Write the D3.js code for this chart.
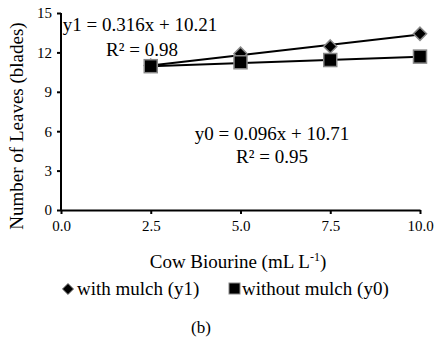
<!DOCTYPE html>
<html>
<head>
<meta charset="utf-8">
<script src="https://cdn.jsdelivr.net/npm/d3@7"></script>
<style>
  html, body { margin: 0; padding: 0; background: #fff; }
  svg text { font-family: "Liberation Serif", "Times New Roman", serif; fill: #000; }
</style>
</head>
<body>
<svg id="chart" width="436" height="342"></svg>
<script>
// Cow biourine dose (mL L-1)
const doses = [2.5, 5.0, 7.5, 10.0];
// Number of leaves, with mulch (y1) and without mulch (y0)
const withMulch = [11.0, 11.9, 12.45, 13.42];
const withoutMulch = [10.95, 11.25, 11.42, 11.68];
// Fitted linear trends
const fitWith = { slope: 0.316, intercept: 10.21, r2: 0.98 };
const fitWithout = { slope: 0.096, intercept: 10.71, r2: 0.95 };
const xTicks = [0, 2.5, 5, 7.5, 10];
const yTicks = [0, 3, 6, 9, 12, 15];

const FONT = "Liberation Serif";
const svg = d3.select("#chart");
const x = d3.scaleLinear().domain([0, 10]).range([61, 420]);
const y = d3.scaleLinear().domain([0, 15]).range([210, 13]);

// Axes
const xAxis = d3.axisBottom(x).tickValues(xTicks).tickFormat(d3.format(".1f"))
  .tickSizeInner(4).tickSizeOuter(0).tickPadding(6);
const yAxis = d3.axisLeft(y).tickValues(yTicks).tickFormat(d3.format("d"))
  .tickSizeInner(4).tickSizeOuter(0).tickPadding(5);

const gx = svg.append("g").attr("transform", `translate(0,${y(0)})`).call(xAxis);
const gy = svg.append("g").attr("transform", `translate(${x(0)},0)`).call(yAxis);
[gx, gy].forEach(g => {
  g.attr("font-family", FONT);
  g.select(".domain").attr("stroke", "#000").attr("stroke-width", 2);
  g.selectAll(".tick line").attr("stroke", "#000").attr("stroke-width", 2);
  g.selectAll(".tick text").attr("font-size", 15)
    .attr("font-family", FONT).attr("fill", "#000");
});
gy.select(".domain").attr("d", `M0,${y(15)}V${y(0)}`);

// Trend lines across the dose range
const xMin = d3.min(doses), xMax = d3.max(doses);
[fitWith, fitWithout].forEach(f => {
  svg.append("line")
    .attr("x1", x(xMin)).attr("y1", y(f.slope * xMin + f.intercept))
    .attr("x2", x(xMax)).attr("y2", y(f.slope * xMax + f.intercept))
    .attr("stroke", "#000").attr("stroke-width", 2);
});

// Markers
svg.append("g").selectAll("path")
  .data(doses.map((d, i) => [d, withMulch[i]]))
  .join("path")
  .attr("d", d3.symbol(d3.symbolDiamond2, 110))
  .attr("transform", d => `translate(${x(d[0])},${y(d[1])})`)
  .attr("fill", "#000").attr("stroke", "#888").attr("stroke-width", 1.5);

svg.append("g").selectAll("rect")
  .data(doses.map((d, i) => [d, withoutMulch[i]]))
  .join("rect")
  .attr("x", d => x(d[0]) - 6.5).attr("y", d => y(d[1]) - 6.5)
  .attr("width", 13).attr("height", 13)
  .attr("fill", "#000").attr("stroke", "#888").attr("stroke-width", 1.5);

function label(px, py, str, size, anchor) {
  return svg.append("text").attr("x", px).attr("y", py)
    .attr("text-anchor", anchor || "middle").attr("font-size", size)
    .attr("font-family", FONT).text(str);
}

// Equation labels
label(140, 31, `y1 = ${fitWith.slope}x + ${fitWith.intercept}`, 19);
label(142, 56, `R² = ${fitWith.r2.toFixed(2)}`, 19);
label(272, 140, `y0 = ${fitWithout.slope}x + ${fitWithout.intercept}`, 19);
label(272, 163, `R² = ${fitWithout.r2.toFixed(2)}`, 19);

// Axis titles
const xt = label(238, 268, "", 19);
xt.append("tspan").text("Cow Biourine (mL L");
xt.append("tspan").attr("font-size", 12).attr("dy", -7).text("-1");
xt.append("tspan").attr("dy", 7).text(")");

svg.append("text")
  .attr("transform", "translate(23,126) rotate(-90)")
  .attr("text-anchor", "middle").attr("font-size", 19).attr("font-family", FONT)
  .text("Number of Leaves (blades)");

// Legend
svg.append("path").attr("d", d3.symbol(d3.symbolDiamond2, 80))
  .attr("transform", "translate(68,289)")
  .attr("fill", "#000").attr("stroke", "#888").attr("stroke-width", 1);
label(77, 295, "with mulch (y1)", 19, "start");
svg.append("rect").attr("x", 229).attr("y", 283).attr("width", 11).attr("height", 11)
  .attr("fill", "#000").attr("stroke", "#888").attr("stroke-width", 1);
label(242, 295, "without mulch (y0)", 19, "start");

// Panel label
label(201, 333, "(b)", 17);
</script>
</body>
</html>
